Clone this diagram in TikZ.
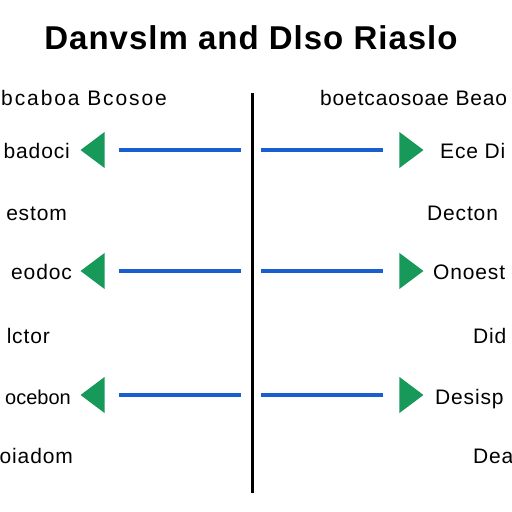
\documentclass[tikz,border=0pt]{standalone}
\usepackage{fontspec}
\setmainfont{Liberation Sans}
\usetikzlibrary{shapes.geometric}
\definecolor{verde}{HTML}{17995A}
\definecolor{azul}{HTML}{1A5FCF}

\begin{document}
\begin{tikzpicture}[
        x=1pt, y=-1pt,
        texto/.style={font=\fontsize{21}{24}\selectfont\addfontfeature{LetterSpace=4}, inner sep=0pt},
        izq/.style={texto, anchor=base east},
        der/.style={texto, anchor=base west},
        punta/.style={isosceles triangle, isosceles triangle stretches, fill=verde, draw=none,
                      inner sep=0pt, minimum width=36pt, minimum height=24pt, anchor=apex},
        linea/.style={draw=azul, line width=3.2pt}
    ]
        \useasboundingbox (0,0) rectangle (512,512);

        % Titulo
        \node[font=\fontsize{33}{38}\selectfont\bfseries\addfontfeature{LetterSpace=3}, inner sep=0pt, anchor=base] (titulo) at (251,49) {Danvslm and Dlso Riaslo};

        % Eje central
        \coordinate (arriba) at (252,93);
        \coordinate (abajo) at (252,493);
        \draw[line width=3pt] (arriba) -- (abajo);

        % Textos izquierda
        \node[izq, font=\fontsize{21}{24}\selectfont\addfontfeature{LetterSpace=9}] (i1) at (167,105) {bcaboa Bcosoe};
        \node[izq] (i2) at (70,158) {badoci};
        \node[izq] (i3) at (67,220) {estom};
        \node[izq] (i4) at (72,279) {eodoc};
        \node[izq] (i5) at (50,343) {lctor};
        \node[izq, font=\fontsize{20}{24}\selectfont] (i6) at (71,404) {ocebon};
        \node[izq] (i7) at (73,463) {oiadom};

        % Textos derecha
        \node[der] (d1) at (320,105) {boetcaosoae Beao};
        \node[der] (d2) at (440,158) {Ece Di};
        \node[der] (d3) at (427,220) {Decton};
        \node[der] (d4) at (433,279) {Onoest};
        \node[der] (d5) at (473,343) {Did};
        \node[der] (d6) at (435,404) {Desisp};
        \node[der] (d7) at (473,463) {Dea};

        % Puntas
        \node[punta, shape border rotate=180] (pi2) at (80,150) {};
        \node[punta, shape border rotate=180] (pi4) at (80,271) {};
        \node[punta, shape border rotate=180] (pi6) at (80,395) {};
        \node[punta] (pd2) at (424,150) {};
        \node[punta] (pd4) at (424,271) {};
        \node[punta] (pd6) at (424,395) {};

        % Lineas
        \coordinate (a2) at (119,150);
        \coordinate (b2) at (241,150);
        \coordinate (c2) at (261,150);
        \coordinate (e2) at (383,150);
        \coordinate (a4) at (119,271);
        \coordinate (b4) at (241,271);
        \coordinate (c4) at (261,271);
        \coordinate (e4) at (383,271);
        \coordinate (a6) at (119,395);
        \coordinate (b6) at (241,395);
        \coordinate (c6) at (261,395);
        \coordinate (e6) at (383,395);
        \draw[linea] (b2) -- (a2);
        \draw[linea] (c2) -- (e2);
        \draw[linea] (b4) -- (a4);
        \draw[linea] (c4) -- (e4);
        \draw[linea] (b6) -- (a6);
        \draw[linea] (c6) -- (e6);
    \end{tikzpicture}
\end{document}
